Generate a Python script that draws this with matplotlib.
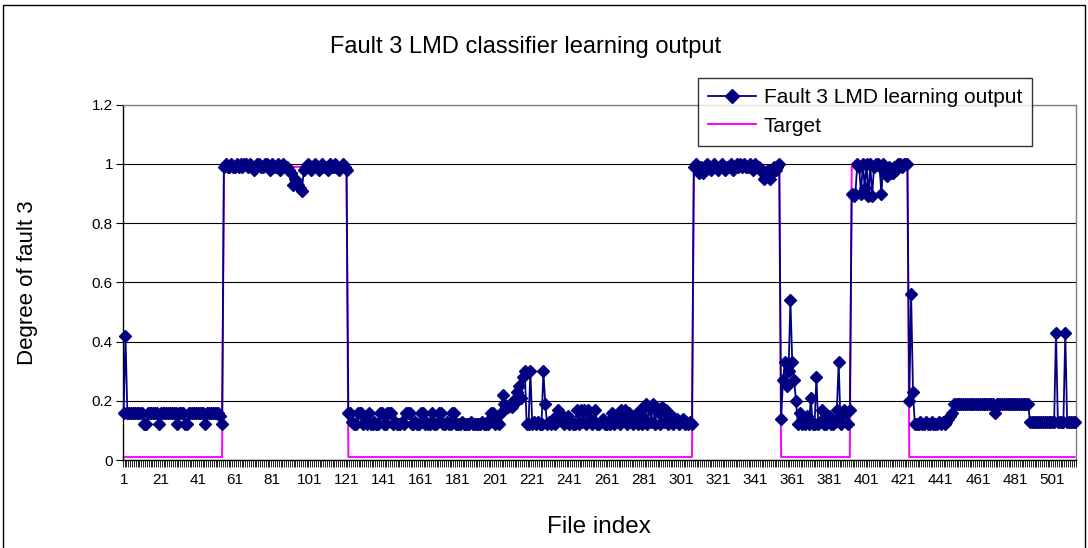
import numpy as np
import matplotlib
matplotlib.use('Agg')
import matplotlib.pyplot as plt
from matplotlib.patches import Rectangle

plt.rcParams['font.family'] = ['Liberation Sans', 'DejaVu Sans']

# --- data, one list per stretch of the target ---
# files 1-54 (target low)
fault_a = [0.16, 0.42, 0.16, 0.16, 0.16, 0.16, 0.16, 0.16, 0.16, 0.16, 0.16,
           0.12, 0.12, 0.16, 0.16, 0.16, 0.16, 0.16, 0.16, 0.12, 0.16,
           0.16, 0.16, 0.16, 0.16, 0.16, 0.16, 0.16, 0.16, 0.12, 0.16,
           0.16, 0.16, 0.12, 0.12, 0.16, 0.16, 0.16, 0.16, 0.16, 0.16,
           0.16, 0.16, 0.16, 0.12, 0.16, 0.16, 0.16, 0.16, 0.16, 0.16,
           0.16, 0.15, 0.12]
# files 55-121 (target high)
fault_b = [0.99, 1.00, 0.99, 0.99, 1.00, 0.99, 0.99, 1.00, 0.99, 1.00,
           0.99, 1.00, 1.00, 0.99, 1.00, 0.99, 0.98, 0.99, 1.00, 1.00,
           0.99, 0.99, 1.00, 1.00, 0.99, 0.98, 1.00, 0.99, 0.99, 1.00,
           0.98, 0.99, 1.00, 0.99, 0.99, 0.98, 0.97, 0.93, 0.95, 0.94,
           0.93, 0.92, 0.91, 0.98, 0.99, 1.00, 0.99, 0.98, 0.99, 1.00,
           0.99, 0.98, 0.99, 1.00, 0.99, 0.99, 0.98, 1.00, 0.99, 0.99,
           1.00, 0.99, 0.98, 0.99, 1.00, 0.99, 0.98]
# files 122-307 (target low)
fault_c = [0.16, 0.16, 0.13, 0.12, 0.12, 0.16, 0.16, 0.16, 0.12, 0.13,
           0.12, 0.16, 0.12, 0.12, 0.13, 0.12, 0.12, 0.16, 0.16, 0.12,
           0.12, 0.16, 0.16, 0.16, 0.12, 0.13, 0.12, 0.12, 0.12, 0.13,
           0.12, 0.16, 0.16, 0.16, 0.12, 0.12, 0.13, 0.12, 0.12, 0.16,
           0.16, 0.12, 0.13, 0.12, 0.12, 0.16, 0.12, 0.12, 0.13, 0.16,
           0.16, 0.12, 0.12, 0.13, 0.12, 0.12, 0.16, 0.16, 0.12, 0.12,
           0.12, 0.13, 0.12, 0.12, 0.12, 0.12, 0.13, 0.12, 0.12, 0.12,
           0.12, 0.12, 0.13, 0.12, 0.12, 0.12, 0.14, 0.16, 0.16, 0.12,
           0.13, 0.12, 0.16, 0.22, 0.19, 0.18, 0.18, 0.19, 0.18, 0.19,
           0.21, 0.23, 0.25, 0.21, 0.28, 0.30, 0.12, 0.12, 0.30, 0.12,
           0.13, 0.12, 0.13, 0.12, 0.12, 0.30, 0.19, 0.12, 0.13, 0.12,
           0.14, 0.12, 0.13, 0.17, 0.16, 0.14, 0.12, 0.13, 0.15, 0.12,
           0.13, 0.12, 0.12, 0.17, 0.12, 0.17, 0.13, 0.17, 0.12, 0.17,
           0.14, 0.12, 0.13, 0.17, 0.12, 0.12, 0.13, 0.14, 0.12, 0.12,
           0.13, 0.12, 0.16, 0.12, 0.13, 0.15, 0.12, 0.17, 0.14, 0.17,
           0.12, 0.16, 0.13, 0.12, 0.15, 0.13, 0.12, 0.17, 0.12, 0.14,
           0.19, 0.12, 0.18, 0.13, 0.19, 0.12, 0.17, 0.16, 0.12, 0.18,
           0.13, 0.17, 0.12, 0.14, 0.15, 0.12, 0.13, 0.14, 0.12, 0.13,
           0.14, 0.12, 0.13, 0.12, 0.13, 0.12]
# files 308-354 (target high)
fault_d = [0.99, 1.00, 0.98, 0.97, 0.99, 0.97, 0.98, 1.00, 0.99, 0.98,
           0.99, 1.00, 0.99, 0.98, 0.99, 1.00, 0.99, 0.98, 0.99, 0.99,
           1.00, 0.98, 0.99, 1.00, 0.99, 1.00, 0.99, 1.00, 0.99, 0.99,
           1.00, 0.99, 0.98, 1.00, 0.99, 0.99, 0.98, 0.97, 0.95, 0.96,
           0.98, 0.95, 0.97, 0.99, 0.98, 0.99, 1.00]
# files 355-392 (target low)
fault_e = [0.14, 0.27, 0.33, 0.25, 0.30, 0.54, 0.33, 0.27, 0.20, 0.12,
           0.16, 0.12, 0.13, 0.12, 0.15, 0.12, 0.21, 0.12, 0.12, 0.28,
           0.12, 0.13, 0.17, 0.12, 0.12, 0.13, 0.15, 0.12, 0.12, 0.13,
           0.17, 0.33, 0.12, 0.15, 0.17, 0.16, 0.12, 0.17]
# files 393-423 (target high)
fault_f = [0.90, 0.89, 0.90, 1.00, 0.99, 0.90, 1.00, 0.92, 1.00, 0.89,
           1.00, 0.89, 0.99, 1.00, 1.00, 0.99, 0.90, 1.00, 0.97, 0.96,
           0.99, 0.97, 0.97, 0.99, 0.98, 1.00, 1.00, 0.99, 1.00, 1.00,
           1.00]
# files 424-513 (target low)
fault_g = [0.20, 0.56, 0.23, 0.12, 0.12, 0.12, 0.13, 0.12, 0.12, 0.13,
           0.12, 0.12, 0.13, 0.12, 0.12, 0.12, 0.13, 0.12, 0.13, 0.12,
           0.13, 0.14, 0.15, 0.16, 0.19, 0.19, 0.19, 0.19, 0.19, 0.19,
           0.19, 0.19, 0.19, 0.19, 0.19, 0.19, 0.19, 0.19, 0.19, 0.19,
           0.19, 0.19, 0.19, 0.19, 0.19, 0.19, 0.16, 0.19, 0.19, 0.19,
           0.19, 0.19, 0.19, 0.19, 0.19, 0.19, 0.19, 0.19, 0.19, 0.19,
           0.19, 0.19, 0.19, 0.19, 0.19, 0.13, 0.13, 0.13, 0.13, 0.13,
           0.13, 0.13, 0.13, 0.13, 0.13, 0.13, 0.13, 0.13, 0.13, 0.43,
           0.13, 0.13, 0.13, 0.13, 0.43, 0.13, 0.13, 0.13, 0.13, 0.13]

target_levels = [0.01, 0.99, 0.01, 0.99, 0.01, 0.99, 0.01]
segments = [fault_a, fault_b, fault_c, fault_d, fault_e, fault_f, fault_g]

y_ticks = [0, 0.2, 0.4, 0.6, 0.8, 1.0, 1.2]
y_labels = ['0', '0.2', '0.4', '0.6', '0.8', '1', '1.2']

fault3 = np.concatenate(segments)
target = np.repeat(target_levels, [len(s) for s in segments])
n = len(fault3)
file_index = np.arange(1, n + 1)

W, H = 1088, 548
fig = plt.figure(figsize=(W / 100, H / 100), dpi=100)
fig.patch.set_facecolor('white')

# plot area in pixels of the reference
x0, x1, ytop, ybot = 122.7, 1075.5, 104.7, 460.0
ax = fig.add_axes([x0 / W, 1 - ybot / H, (x1 - x0) / W, (ybot - ytop) / H])

l_target, = ax.plot(file_index, target, color='#FF00FF', lw=1.4, zorder=2,
                    label='Target', clip_on=False)
l_fault, = ax.plot(file_index, fault3, color='#000080', lw=1.3, marker='D',
                   ms=6.2, mfc='#000080', mec='#000080', zorder=3,
                   label='Fault 3 LMD learning output', clip_on=False)

ax.set_xlim(0.5, n + 0.5)
ax.set_ylim(0, 1.2)
ax.set_yticks(y_ticks)
ax.set_yticklabels(y_labels, fontsize=11)
ax.yaxis.grid(True, color='black', lw=0.8)
ax.set_axisbelow(True)

ax.set_xticks(np.arange(1, n + 1, 20))
ax.set_xticklabels([str(v) for v in range(1, n + 1, 20)], fontsize=11)
ax.set_xticks(np.arange(0.5, n + 1, 1), minor=True)
ax.tick_params(axis='x', which='major', length=0, pad=9)
ax.tick_params(axis='x', which='minor', length=5, width=0.6, color='black')
ax.tick_params(axis='y', length=5, width=0.8, pad=2)

for side in ['left', 'bottom']:
    ax.spines[side].set_color('black')
    ax.spines[side].set_linewidth(1.0)
for side in ['top', 'right']:
    ax.spines[side].set_color('#808080')
    ax.spines[side].set_linewidth(1.0)

fig.text(526 / W, 1 - 47 / H, 'Fault 3 LMD classifier learning output',
         ha='center', va='center', fontsize=17)
fig.text(28 / W, 1 - 283 / H, 'Degree of fault 3', rotation=90,
         ha='center', va='center', fontsize=16)
fig.text(599 / W, 1 - 527 / H, 'File index', ha='center', va='center',
         fontsize=17.5)

leg = fig.legend([l_fault, l_target], [l_fault.get_label(), l_target.get_label()],
                 loc='upper left', bbox_to_anchor=(698 / W, 1 - 78 / H),
                 fontsize=15, frameon=True, fancybox=False, shadow=False,
                 borderaxespad=0, handlelength=2.3, handletextpad=0.35,
                 borderpad=0.5, labelspacing=0.45, markerscale=1.1)
leg.get_frame().set_edgecolor('black')
leg.get_frame().set_linewidth(1.0)

# chart-area border
fig.add_artist(Rectangle((3 / W, -0.05), (1085 - 3) / W, 1.05 - 5 / H,
                         transform=fig.transFigure, fill=False,
                         edgecolor='black', lw=1.0))

fig.savefig('out.png', dpi=100)
